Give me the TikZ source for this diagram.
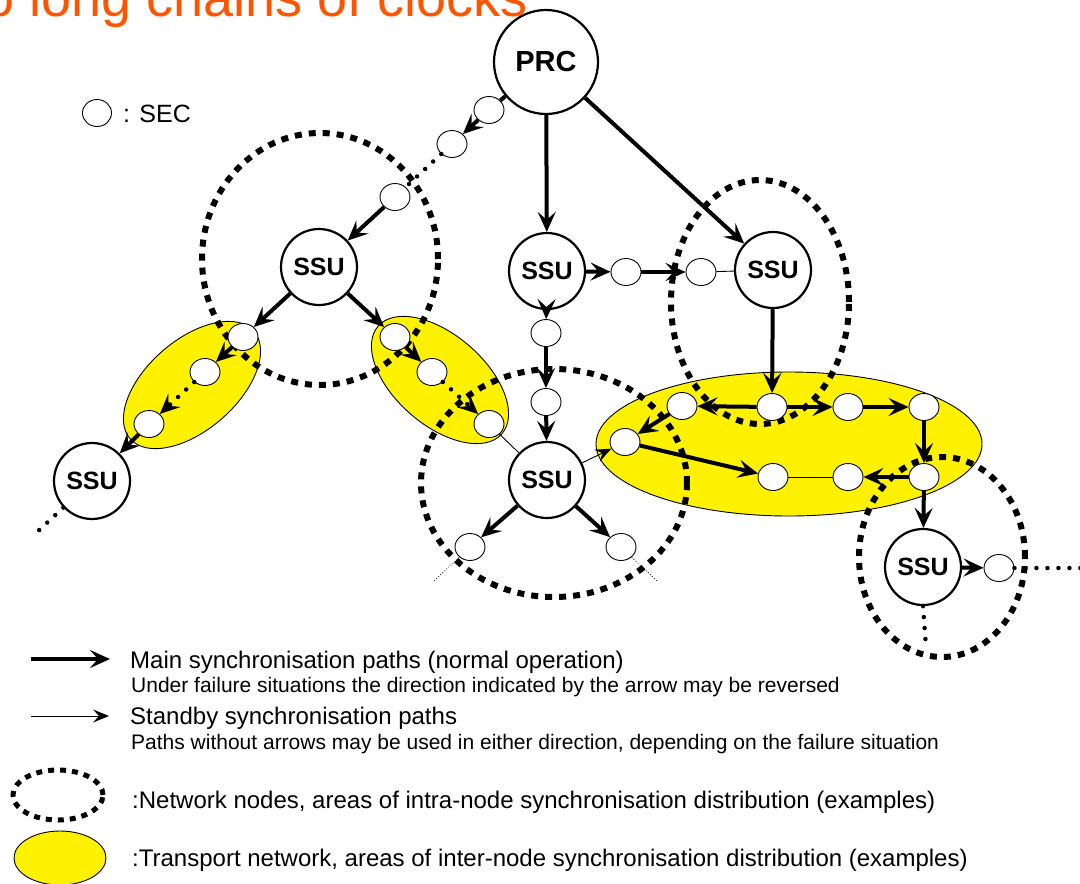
\documentclass[tikz,border=0pt]{standalone}
\usepackage{fontspec}
\setmainfont{Liberation Sans}
\usetikzlibrary{arrows.meta,shapes.geometric}
\definecolor{ttl}{RGB}{255,85,0}
\begin{document}
\begin{tikzpicture}[x=1pt,y=-1pt,
  sec/.style={ellipse,draw,line width=0.9pt,fill=white,minimum width=30pt,minimum height=27pt,inner sep=0pt},
  ssu/.style={circle,draw,line width=2.2pt,fill=white,minimum size=76pt,inner sep=0pt,font=\bfseries\fontsize{25}{25}\selectfont},
  prc/.style={circle,draw,line width=2.2pt,fill=white,minimum size=104pt,inner sep=0pt,font=\bfseries\fontsize{29}{29}\selectfont},
  mainarr/.style={line width=4pt,-{Stealth[length=20pt,width=18pt,inset=8pt]}},
  mainln/.style={line width=4pt},
  thinarr/.style={line width=0.9pt,-{Stealth[length=16pt,width=13pt,inset=6pt]}},
  thinln/.style={line width=0.9pt},
  dotln/.style={line width=4.5pt,line cap=round,dash pattern=on 0pt off 11pt},
  dotarr/.style={dotln,-{Stealth[length=20pt,width=18pt,inset=8pt]}},
  finedot/.style={line width=0.8pt,dotted},
  nodearea/.style={ellipse,draw,line width=6pt,dash pattern=on 7pt off 7pt,inner sep=0pt},
  transarea/.style={ellipse,draw,fill=yellow,line width=0.9pt,inner sep=0pt},
  bigtxt/.style={anchor=base west,inner sep=0pt,font=\fontsize{24}{24}\selectfont},
  smalltxt/.style={anchor=base west,inner sep=0pt,font=\fontsize{21}{21}\selectfont},
]
\useasboundingbox (0,0) rectangle (1080,884);
% title
\node[anchor=base west,inner sep=0pt,text=ttl,font=\fontsize{54}{54}\selectfont] (title) at (-16,16) {o long chains of clocks};
% transport areas
\node[transarea,minimum width=164pt,minimum height=90pt,rotate=41] (Y1) at (192,385) {};
\node[transarea,minimum width=164pt,minimum height=90pt,rotate=-41] (Y2) at (440,380) {};
\node[transarea,minimum width=386pt,minimum height=144pt] (Y3) at (789,444) {};
% network node areas
\node[nodearea,minimum width=236pt,minimum height=252pt] (A1) at (320,259) {};
\node[nodearea,minimum width=266pt,minimum height=228pt] (A2) at (554,483) {};
\node[nodearea,minimum width=178pt,minimum height=244pt] (A3) at (760,302) {};
\node[nodearea,minimum width=166pt,minimum height=200pt] (A4) at (942,557) {};
% main nodes
\node[prc] (PRC) at (546,62) {PRC};
\node[ssu] (SL) at (319,267) {SSU};
\node[ssu] (SM) at (547,271) {SSU};
\node[ssu] (SR) at (773,270) {SSU};
\node[ssu] (SBL) at (92,481) {SSU};
\node[ssu] (SC) at (547,480) {SSU};
\node[ssu] (SBR) at (923,567) {SSU};
% SECs
\node[sec] (s1) at (489,110) {};
\node[sec] (s2) at (452,144) {};
\node[sec] (s3) at (395,197) {};
\node[sec] (a1) at (243,337) {};
\node[sec] (a2) at (205,372) {};
\node[sec] (a3) at (149,424) {};
\node[sec] (b1) at (395,337) {};
\node[sec] (b2) at (432,372) {};
\node[sec] (b3) at (489,424) {};
\node[sec] (c1) at (546,333) {};
\node[sec] (c2) at (546,402) {};
\node[sec] (d1) at (470,547) {};
\node[sec] (d2) at (621,547) {};
\node[sec] (f1) at (626,272) {};
\node[sec] (f2) at (701,272) {};
\node[sec] (g1) at (682,406) {};
\node[sec] (g2) at (772,407) {};
\node[sec] (g3) at (848,407) {};
\node[sec] (g4) at (924,407) {};
\node[sec] (e1) at (625,442) {};
\node[sec] (h1) at (773,477) {};
\node[sec] (h2) at (848,477) {};
\node[sec] (h3) at (924,477) {};
\node[sec] (i1) at (999,568) {};
% free ends
\coordinate (blend) at (36,533);
\coordinate (d1end) at (433,582);
\coordinate (d2end) at (658,582);
\coordinate (iend) at (1086,568);
\coordinate (brend) at (926,647);
% connectors
\draw[mainln] (PRC) -- (s1);
\draw[mainarr] (s1) -- (s2);
\draw[dotln] (s2) -- (s3);
\draw[mainarr] (s3) -- (SL);
\draw[mainarr] (PRC) -- (SM);
\draw[mainarr] (PRC) -- (SR);
\draw[mainarr] (SL) -- (a1);
\draw[mainarr] (SL) -- (b1);
\draw[mainarr] (a1) -- (a2);
\draw[dotarr] (a2) -- (a3);
\draw[mainarr] (a3) -- (SBL);
\draw[dotln] (SBL) -- (blend);
\draw[mainarr] (b1) -- (b2);
\draw[dotarr] (b2) -- (b3);
\draw[thinln] (b3) -- (SC);
\draw[mainarr] (SM) -- (c1);
\draw[mainarr] (c1) -- (c2);
\draw[mainarr] (c2) -- (SC);
\draw[mainarr] (SC) -- (d1);
\draw[mainarr] (SC) -- (d2);
\draw[finedot] (d1) -- (d1end);
\draw[finedot] (d2) -- (d2end);
\draw[mainarr] (SM) -- (f1);
\draw[mainarr] (f1) -- (f2);
\draw[thinln] (f2) -- (SR);
\draw[thinarr] (SC) -- (e1);
\draw[mainarr] (SR) -- (g2);
\draw[mainarr] (g2) -- (g1);
\draw[mainarr] (g2) -- (g3);
\draw[mainarr] (g3) -- (g4);
\draw[mainarr] (g4) -- (h3);
\draw[mainarr] (h3) -- (h2);
\draw[thinln] (h2) -- (h1);
\draw[mainarr] (g1) -- (e1);
\draw[mainarr] (e1) -- (h1);
\draw[mainarr] (h3) -- (SBR);
\draw[mainarr] (SBR) -- (i1);
\draw[dotln] (i1) -- (iend);
\draw[dotln] (SBR.south) -- (brend);
% legend
\node[sec,minimum width=29pt,minimum height=27pt] (lsec) at (97,113) {};
\node[anchor=base west,inner sep=0pt,font=\fontsize{25}{25}\selectfont] (lsectxt) at (123,122) {: SEC};
\coordinate (lm1) at (31,659);
\coordinate (lm2) at (110,659);
\coordinate (ls1) at (31,716);
\coordinate (ls2) at (109,716);
\draw[mainarr] (lm1) -- (lm2);
\draw[thinarr] (ls1) -- (ls2);
\node[bigtxt] (t1) at (130,668) {Main synchronisation paths (normal operation)};
\node[smalltxt] (t2) at (131,692) {Under failure situations the direction indicated by the arrow may be reversed};
\node[bigtxt] (t3) at (130,724) {Standby synchronisation paths};
\node[smalltxt] (t4) at (131,749) {Paths without arrows may be used in either direction, depending on the failure situation};
\node[nodearea,line width=5pt,dash pattern=on 6pt off 6pt,minimum width=90pt,minimum height=50pt] (lna) at (58,795) {};
\node[bigtxt] (t5) at (132,808) {:Network nodes, areas of intra-node synchronisation distribution (examples)};
\node[transarea,minimum width=92pt,minimum height=54pt] (lta) at (60,858) {};
\node[bigtxt] (t6) at (132,866) {:Transport network, areas of inter-node synchronisation distribution (examples)};
\end{tikzpicture}
\end{document}
